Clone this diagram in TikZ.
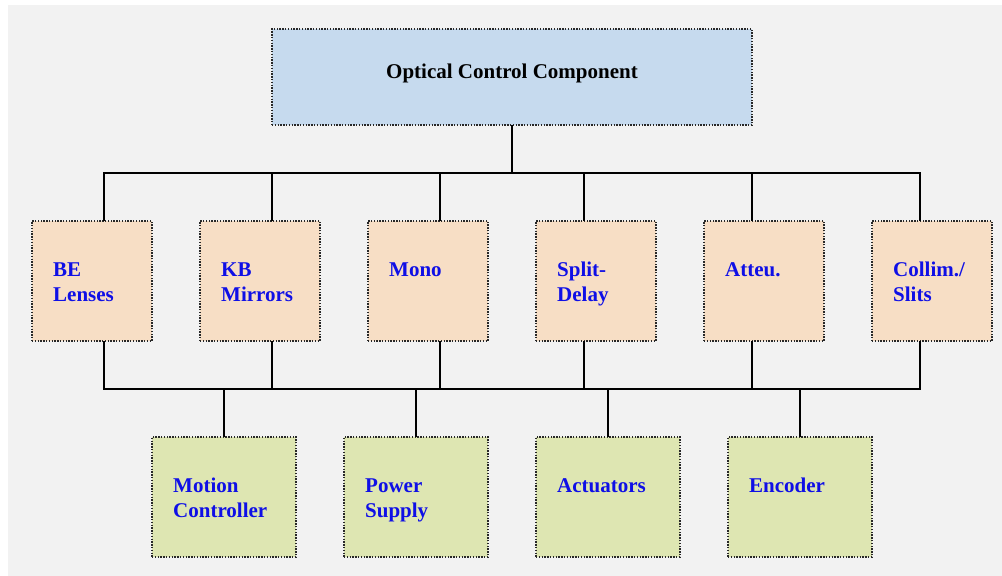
\documentclass[tikz,border=0pt]{standalone}
\usepackage{fontspec}
\setmainfont{Liberation Serif}
\usetikzlibrary{calc}
\definecolor{bggray}{RGB}{242,242,242}
\definecolor{topblue}{RGB}{198,218,238}
\definecolor{peach}{RGB}{247,222,197}
\definecolor{olive}{RGB}{222,230,178}
\definecolor{txtblue}{RGB}{15,15,230}
\definecolor{dotgray}{RGB}{40,40,40}
\tikzset{
  box/.style={draw=dotgray, line width=1.2pt, dash pattern=on 1.4pt off 1.4pt, inner sep=0pt, outer sep=0pt},
  topbox/.style={box, fill=topblue, minimum width=480pt, minimum height=96pt},
  midbox/.style={box, fill=peach, minimum width=120pt, minimum height=120pt},
  lowbox/.style={box, fill=olive, minimum width=144pt, minimum height=120pt},
  lbl/.style={anchor=north west, inner sep=0pt, align=left, text=txtblue,
    font=\fontsize{21}{25}\selectfont\bfseries},
  ttl/.style={anchor=base, inner sep=0pt, font=\fontsize{21}{25}\selectfont\bfseries},
  wire/.style={line width=1.5pt, black},
}
\newcommand{\lab}[3]{\node[lbl] (#1) at ($(#2.north west)+(21,37.5)$) {\strut #3};}
\begin{document}
\begin{tikzpicture}[x=1pt,y=-1pt]
\useasboundingbox (0,0) rectangle (1002,576);
\fill[bggray] (8,5) rectangle (1002,576);

% top
\node[topbox] (top) at (512,77) {};
\node[ttl] (title) at (512,78) {Optical Control Component};

% middle
\node[midbox] (m1) at (92,281) {};
\node[midbox] (m2) at (260,281) {};
\node[midbox] (m3) at (428,281) {};
\node[midbox] (m4) at (596,281) {};
\node[midbox] (m5) at (764,281) {};
\node[midbox] (m6) at (932,281) {};
\lab{l1}{m1}{BE\\Lenses}
\lab{l2}{m2}{KB\\Mirrors}
\lab{l3}{m3}{Mono}
\lab{l4}{m4}{Split-\\Delay}
\lab{l5}{m5}{Atteu.}
\lab{l6}{m6}{Collim./\\Slits}

% bottom
\node[lowbox] (b1) at (224,497) {};
\node[lowbox] (b2) at (416,497) {};
\node[lowbox] (b3) at (608,497) {};
\node[lowbox] (b4) at (800,497) {};
\lab{k1}{b1}{Motion\\Controller}
\lab{k2}{b2}{Power\\Supply}
\lab{k3}{b3}{Actuators}
\lab{k4}{b4}{Encoder}

% bus coordinates
\coordinate (u1) at (104,173);
\coordinate (u2) at (272,173);
\coordinate (u3) at (440,173);
\coordinate (u4) at (584,173);
\coordinate (u5) at (752,173);
\coordinate (u6) at (920,173);
\coordinate (d1) at (104,389);
\coordinate (d2) at (272,389);
\coordinate (d3) at (440,389);
\coordinate (d4) at (584,389);
\coordinate (d5) at (752,389);
\coordinate (d6) at (920,389);

\draw[wire] (top.south) -- (top.south |- u1);
\draw[wire, line cap=rect] (u1) -- (u6);
\draw[wire, line cap=rect] (d1) -- (d6);
\foreach \i in {1,...,6}{
  \draw[wire] (u\i) -- (u\i |- m\i.north);
  \draw[wire] (d\i) -- (d\i |- m\i.south);
}
\foreach \i in {1,...,4}{
  \draw[wire] (b\i.north) -- (b\i.north |- d1);
}
\end{tikzpicture}
\end{document}
